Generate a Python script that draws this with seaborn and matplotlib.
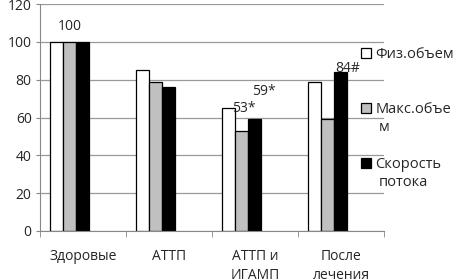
import numpy as np
import pandas as pd
import seaborn as sns
import matplotlib.pyplot as plt
from matplotlib.ticker import FixedLocator

# data
groups = ['Здоровые', 'АТТП', 'АТТП и\nИГАМП', 'После\nлечения']
series = ['Физ.объем', 'Макс.объе', 'Скорость']
series_tail = ['', 'м', 'потока']  # wrapped second lines of the legend labels
phys_volume = [100, 85, 65, 79]
max_volume = [100, 79, 53, 59]
flow_speed = [100, 76, 59, 84]
notes = ['100', '53*', '59*', '84#']

df = pd.DataFrame({
    'group': groups * 3,
    'series': np.repeat(series, len(groups)),
    'value': phys_volume + max_volume + flow_speed,
})

sns.set_style('white')
plt.rcParams['font.family'] = ['Open Sans', 'DejaVu Sans']

fig = plt.figure(figsize=(4.53, 2.79), dpi=100)
ax = fig.add_axes([40 / 453, 1 - 231 / 279, 344 / 453, 227 / 279])

sns.barplot(data=df, x='group', y='value', hue='series', order=groups,
            hue_order=series, palette=['white', '#c0c0c0', 'black'],
            edgecolor='black', linewidth=0.9, width=0.46, gap=0,
            saturation=1, ax=ax, legend=True)

shift = 0.157
ax.set_xlim(-0.5 + shift, len(groups) - 0.5 + shift)
ax.set_ylim(0, 120)
ax.set_yticks(range(0, 121, 20))
ax.set_xticks(np.arange(len(groups)) + shift)
ax.set_xticklabels(groups, fontsize=10, linespacing=1.35)
ax.xaxis.set_minor_locator(FixedLocator(np.arange(len(groups) + 1) - 0.5 + shift))
ax.tick_params(axis='x', which='major', length=0, pad=13)
ax.tick_params(axis='x', which='minor', length=4, color='#888888', direction='out', bottom=True)
ax.tick_params(axis='y', length=3, color='#888888', direction='out', left=True, labelsize=10, pad=3)
ax.set_xlabel('')
ax.set_ylabel('')
ax.grid(axis='y', color='#999999', linewidth=0.9)
ax.set_axisbelow(True)
for side in ['top', 'right']:
    ax.spines[side].set_visible(False)
for side in ['left', 'bottom']:
    ax.spines[side].set_color('#888888')

# annotations above bars
ax.text(0, 108, notes[0], ha='center', va='center', fontsize=10)
ax.text(2.03, 65, notes[1], ha='center', va='center', fontsize=10)
ax.text(2.26, 73.5, notes[2], ha='center', va='center', fontsize=10)
ax.text(3.23, 86, notes[3], ha='center', va='center', fontsize=10)

handles, labels = ax.get_legend_handles_labels()
leg = ax.legend(handles, labels, loc='upper left', bbox_to_anchor=(361 / 453, 1 - 47 / 279),
                bbox_transform=fig.transFigure, frameon=False, fontsize=10.5,
                handlelength=0.7, handleheight=0.7, handletextpad=0.3,
                labelspacing=2.75, borderpad=0, borderaxespad=0)

# second lines of the wrapped legend labels, just under their first lines
fig.canvas.draw()
inv = fig.transFigure.inverted()
for txt, tail in zip(leg.get_texts(), series_tail):
    if tail:
        bb = txt.get_window_extent()
        x0, y0 = inv.transform((bb.x0 + 3, bb.y0 - 3))
        fig.text(x0, y0, tail, ha='left', va='top', fontsize=10.5)

fig.savefig('out.png', dpi=100)
